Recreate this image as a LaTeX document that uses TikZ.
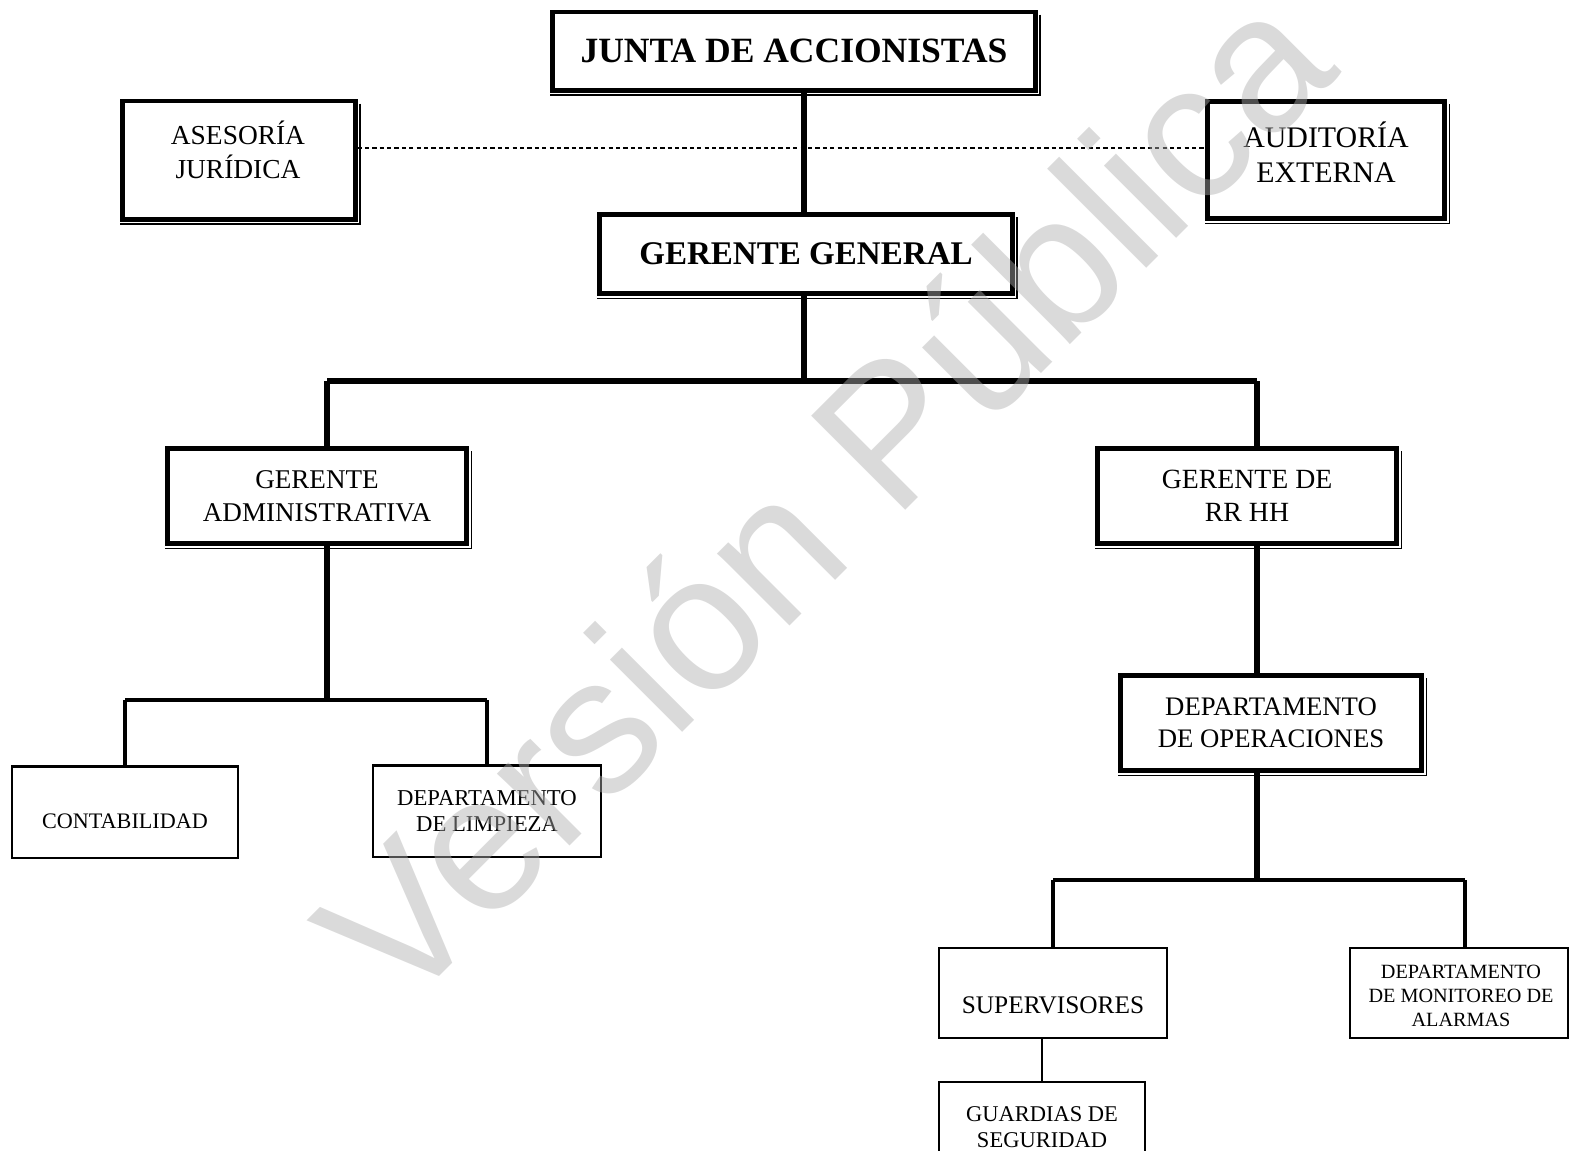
\documentclass[tikz,border=0pt]{standalone}
\usepackage{fontspec}
\setmainfont{Liberation Serif}
\newfontfamily\wmfont{Liberation Sans}
\newcommand\fsz[2]{\fontsize{#1}{#2}\selectfont}
\newcommand\shad[1]{\draw[shadowline] ([shift={(2.5,5)}]#1.north east) -- ([shift={(2.5,2.5)}]#1.south east) -- ([shift={(0,2.5)}]#1.south west);}
\begin{document}
\begin{tikzpicture}[x=0.01cm,y=-0.01cm,
  thickbox/.style={draw, line width=1.4pt, inner sep=0pt, align=center, fill=white},
  thinbox/.style={draw, line width=0.6pt, inner sep=0pt, align=center, fill=white},
  label text/.style={inner sep=0pt, align=center},
  conn/.style={line width=1.45pt},
  connb/.style={line width=1.2pt},
  thinconn/.style={line width=0.6pt},
  shadowline/.style={line width=0.4pt},
  dotline/.style={line width=0.7pt, dash pattern=on 1.2pt off 0.9pt}]
\useasboundingbox (0,0) rectangle (1570,1150);

% boxes
\node[thickbox, minimum width=4.82cm, minimum height=0.78cm, font=\fsz{10.1pt}{12pt}\bfseries] (junta) at (794,51) {JUNTA DE ACCIONISTAS};
\node[thickbox, minimum width=2.32cm, minimum height=1.18cm] (ases) at (239,160) {};
\node[label text, font=\fsz{7.8pt}{9.7pt}] (asesT) at (238,150) {ASESORÍA\\JURÍDICA};
\node[thickbox, minimum width=2.37cm, minimum height=1.17cm] (audit) at (1326,160) {};
\node[label text, font=\fsz{8.5pt}{10pt}] (auditT) at (1326,152) {AUDITORÍA\\EXTERNA};
\node[thickbox, minimum width=4.12cm, minimum height=0.79cm, font=\fsz{9.4pt}{11pt}\bfseries] (gg) at (806,254) {GERENTE GENERAL};
\node[thickbox, minimum width=2.99cm, minimum height=0.95cm, font=\fsz{7.7pt}{9.4pt}] (ga) at (317,496) {GERENTE\\ADMINISTRATIVA};
\node[thickbox, minimum width=2.99cm, minimum height=0.95cm, font=\fsz{7.9pt}{9.4pt}] (rrhh) at (1247,496) {GERENTE DE\\RR HH};
\node[thickbox, minimum width=3.01cm, minimum height=0.95cm, font=\fsz{7.6pt}{9.1pt}] (dop) at (1271,723) {DEPARTAMENTO\\DE OPERACIONES};
\node[thinbox, minimum width=2.26cm, minimum height=0.91cm] (cont) at (125,812) {};
\node[label text, font=\fsz{6.3pt}{7.4pt}] (contT) at (125,821) {CONTABILIDAD};
\node[thinbox, minimum width=2.28cm, minimum height=0.91cm, font=\fsz{6.45pt}{7.4pt}] (limp) at (487,811) {DEPARTAMENTO\\DE LIMPIEZA};
\node[thinbox, minimum width=2.28cm, minimum height=0.90cm] (sup) at (1053,993) {};
\node[label text, font=\fsz{7.2pt}{8.4pt}] (supT) at (1053,1005) {SUPERVISORES};
\node[thinbox, minimum width=2.18cm, minimum height=0.90cm] (mon) at (1459,993) {};
\node[label text, font=\fsz{5.75pt}{6.8pt}] (monT) at (1461,996) {DEPARTAMENTO\\DE MONITOREO DE\\ALARMAS};
\node[thinbox, minimum width=2.06cm, minimum height=0.90cm, font=\fsz{6.4pt}{7.4pt}] (guard) at (1042,1127) {GUARDIAS DE\\SEGURIDAD};

% shadows
\shad{junta}\shad{ases}\shad{audit}\shad{gg}\shad{ga}\shad{rrhh}\shad{dop}

% connectors
\coordinate (bar1) at (804,381);
\coordinate (l1) at (327,381);
\coordinate (r1) at (1257,381);
\coordinate (l2) at (327,700);
\coordinate (l2a) at (125,700);
\coordinate (l2b) at (487,700);
\coordinate (r2) at (1257,880);
\coordinate (r2a) at (1053,880);
\coordinate (r2b) at (1465,880);

\draw[conn] (bar1 |- junta.south) -- (bar1 |- gg.north);
\draw[dotline] ([yshift=0.12cm]ases.east) -- ([yshift=0.12cm]ases.east -| audit.west);
\draw[conn] (bar1 |- gg.south) -- (bar1);
\draw[conn] (l1) -- (r1);
\draw[conn] (l1) -- (l1 |- ga.north);
\draw[conn] (r1) -- (r1 |- rrhh.north);
\draw[conn] (l2 |- ga.south) -- (l2);
\draw[connb] (l2a) -- (l2b);
\draw[connb] (l2a) -- (l2a |- cont.north);
\draw[connb] (l2b) -- (l2b |- limp.north);
\draw[conn] (r1 |- rrhh.south) -- (r1 |- dop.north);
\draw[conn] (r2 |- dop.south) -- (r2);
\draw[connb] (r2a) -- (r2b);
\draw[connb] (r2a) -- (r2a |- sup.north);
\draw[connb] (r2b) -- (r2b |- mon.north);
\draw[thinconn] (guard.north |- sup.south) -- (guard.north);

% watermark
\node[rotate=45, text=black!32, text opacity=0.45, font=\wmfont\fontsize{55pt}{62pt}\selectfont] (wm) at (822,494) {Versión Pública};
\end{tikzpicture}
\end{document}
